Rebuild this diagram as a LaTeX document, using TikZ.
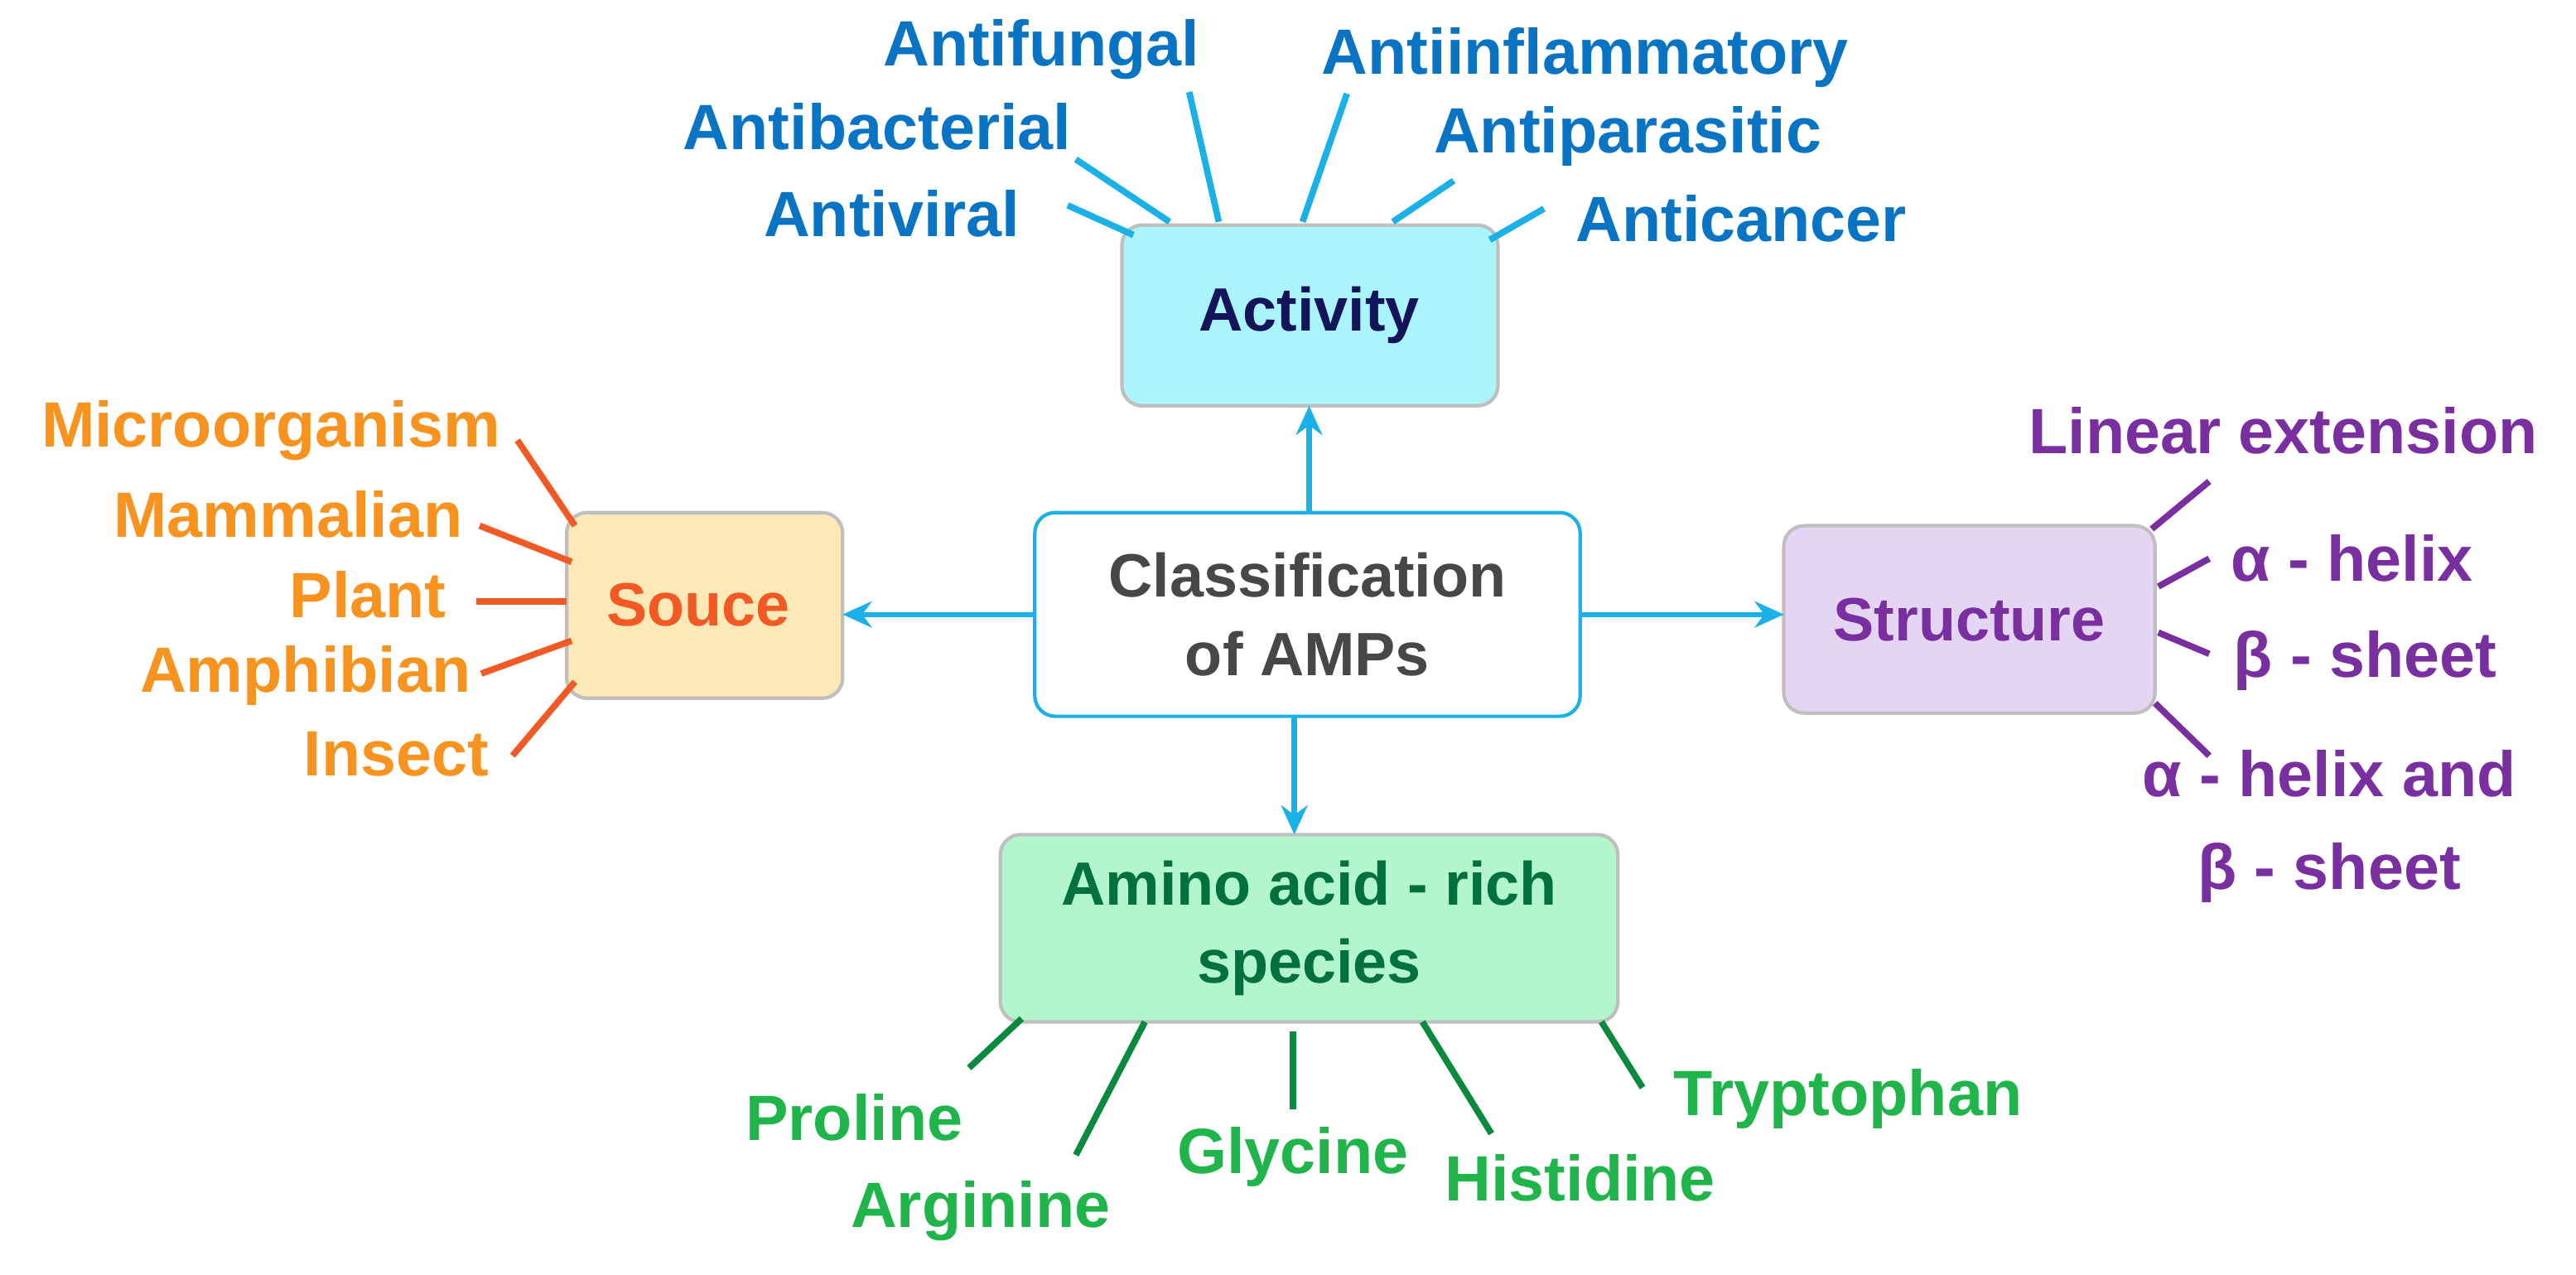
\documentclass[tikz,border=0pt]{standalone}
\usepackage{fontspec}
\setmainfont{Liberation Sans}
\usetikzlibrary{arrows.meta}
\definecolor{cy}{HTML}{1AB0E8}
\definecolor{bl}{HTML}{0A74C4}
\definecolor{org}{HTML}{F7931E}
\definecolor{ored}{HTML}{F15A24}
\definecolor{pur}{HTML}{7A2FA0}
\definecolor{gtx}{HTML}{1FB54A}
\definecolor{gln}{HTML}{0A8A3E}
\definecolor{dgr}{HTML}{00703C}
\begin{document}
\begin{tikzpicture}[x=0.01983cm,y=-0.01983cm,
  box/.style={draw=#1,rounded corners=7pt,line width=1.2pt},
  lab/.style={font=\fontsize{22}{26}\selectfont\bfseries,align=center,inner sep=0pt},
  arr/.style={cy,line width=1.8pt,-{Stealth[length=10pt,width=9pt]}},
  sp/.style={line width=2.2pt}]
\useasboundingbox (0,0) rectangle (1568.3,775.6);
% boxes
\path[box=gray!50,fill={rgb,255:red,170;green,245;blue,251}] (683,137) rectangle (912,247);
\node[font=\fontsize{21}{25}\selectfont\bfseries,text={rgb,255:red,20;green,20;blue,90}] (act) at (797,192) {Activity};
\path[box=cy,fill=white] (630,312) rectangle (962,436);
\node[font=\fontsize{21}{25}\selectfont\bfseries,text=black!72,align=center] (cls) at (796,374) {Classification\\[2pt]of AMPs};
\path[box=gray!50,fill={rgb,255:red,253;green,232;blue,184}] (345,312) rectangle (513,425);
\node[font=\fontsize{21}{25}\selectfont\bfseries,text=ored] (src) at (425,368) {Souce};
\path[box=gray!50,fill={rgb,255:red,229;green,213;blue,245}] (1086,320) rectangle (1312,434);
\node[font=\fontsize{21}{25}\selectfont\bfseries,text=pur] (str) at (1199,377) {Structure};
\path[box=gray!50,fill={rgb,255:red,179;green,245;blue,204}] (609,508) rectangle (985,622);
\node[font=\fontsize{21}{25}\selectfont\bfseries,text=dgr,align=center] (ami) at (797,565) {Amino acid - rich\\[2pt]species};
% arrows
\coordinate (cT) at (797,312); \coordinate (cL) at (630,374); \coordinate (cR) at (962,374); \coordinate (cB) at (788,436);
\coordinate (aB) at (797,247); \coordinate (sR) at (513,374); \coordinate (tL) at (1086,374); \coordinate (mT) at (788,508);
\draw[arr] (cT) -- (aB);
\draw[arr] (cL) -- (sR);
\draw[arr] (cR) -- (tL);
\draw[arr] (cB) -- (mT);
% activity
\foreach \t/\x/\y/\a/\b/\c/\d in {Antiviral/543/130/650/125/690/143, Antibacterial/534/77/655/97/712/135, Antifungal/634/30/724/56/742/135, Antiinflammatory/965/35/820/57/793/135, Antiparasitic/991/83/885/110/848/135, Anticancer/1060/133/940/127/907/146}
 {\node[lab,text=bl] (n\t) at (\x,\y) {\t}; \draw[sp,cy] (\a,\b) -- (\c,\d);}
% source
\foreach \t/\x/\y/\a/\b/\c/\d in {Microorganism/305/262/315/268/350/320, Mammalian/282/313/292/320/348/342, Plant/272/362/290/366/345/366, Amphibian/287/411/293/410/348/390, Insect/298/459/312/460/350/415}
 {\node[lab,text=org,anchor=east] (n\t) at (\x,\y) {\t}; \draw[sp,ored] (\a,\b) -- (\c,\d);}
% structure
\node[lab,text=pur] (s1) at (1390,262) {Linear extension};
\node[lab,text=pur] (s2) at (1432,340) {α - helix};
\node[lab,text=pur] (s3) at (1440,402) {β - sheet};
\node[lab,text=pur] (s4) at (1418,503) {α - helix and\\[6pt]β - sheet};
\draw[sp,pur] (1345,293) -- (1310,322);
\draw[sp,pur] (1345,340) -- (1314,357);
\draw[sp,pur] (1345,398) -- (1314,385);
\draw[sp,pur] (1345,460) -- (1312,428);
% amino
\foreach \t/\x/\y/\a/\b/\c/\d in {Proline/520/680/622/620/590/650, Arginine/597/737/697/622/655/703, Glycine/787/704/787/628/787/675, Histidine/962/717/866/622/908/690, Tryptophan/1125/669/975/622/1000/662}
 {\node[lab,text=gtx] (n\t) at (\x,\y) {\t}; \draw[sp,gln] (\a,\b) -- (\c,\d);}
\end{tikzpicture}
\end{document}
